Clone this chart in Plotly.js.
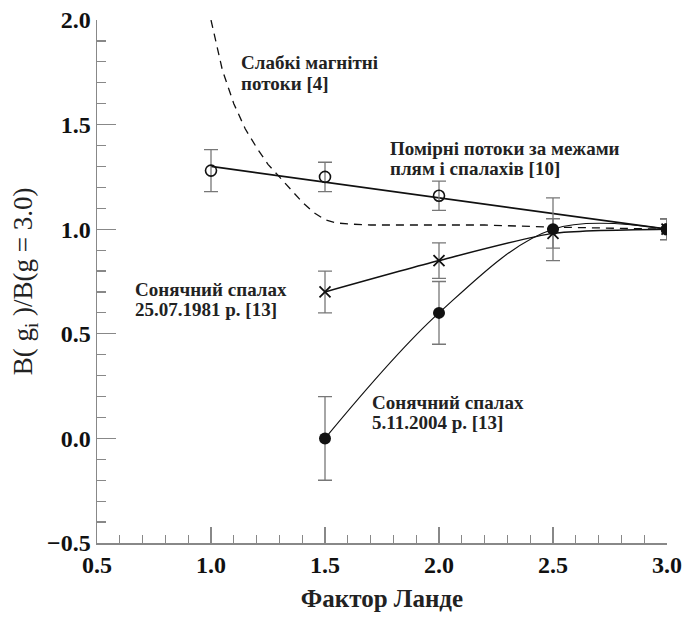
<!DOCTYPE html>
<html>
<head>
<meta charset="utf-8">
<script src="https://cdn.plot.ly/plotly-3.0.1.min.js"></script>
<style>html,body{margin:0;padding:0;background:#fff;}#chart{width:685px;height:617px;}</style>
</head>
<body>
<div id="chart"></div>
<script>
// Moderate fluxes outside spots and flares [10] (open circles)
const modX = [1.0, 1.5, 2.0, 3.0];
const modY = [1.28, 1.25, 1.16, 1.0];
const modErr = [0.10, 0.07, 0.07, 0.05];
// straight fit line for moderate fluxes
const modFitX = [1.0, 3.0];
const modFitY = [1.30, 1.0];

// Solar flare 25.07.1981 (crosses)
const f81X = [1.5, 2.0, 2.5, 3.0];
const f81Y = [0.70, 0.85, 0.98, 1.0];
const f81Err = [0.10, 0.085, 0.07, 0.05];

// Solar flare 5.11.2004 (filled circles)
const f04X = [1.5, 2.0, 2.5, 3.0];
const f04Y = [0.0, 0.60, 1.0, 1.0];
const f04Err = [0.20, 0.15, 0.15, 0.05];

// Weak magnetic fluxes [4] (dashed curve)
const weakX = [1.0, 1.05, 1.1, 1.15, 1.2, 1.25, 1.3, 1.35, 1.4, 1.45, 1.5, 1.55, 1.6, 1.7, 1.8, 2.0, 2.2, 2.5, 2.7, 3.0];
const weakY = [2.0, 1.76, 1.60, 1.48, 1.39, 1.31, 1.25, 1.19, 1.13, 1.08, 1.045, 1.03, 1.025, 1.02, 1.02, 1.02, 1.02, 1.01, 1.005, 1.0];

// Label lines (each line placed separately)
const labelText = ['Слабкі магнітні', 'потоки [4]',
                   'Помірні потоки за межами', 'плям і спалахів [10]',
                   'Сонячний спалах', '25.07.1981 р. [13]',
                   'Сонячний спалах', '5.11.2004 р. [13]'];
const labelX = [1.123, 1.123, 1.776, 1.776, 0.658, 0.658, 1.697, 1.697];
const labelY = [1.798, 1.697, 1.387, 1.291, 0.713, 0.618, 0.174, 0.078];

const serif = 'Liberation Serif';
const errStyle = {type: 'data', symmetric: true, color: '#777', thickness: 1.3, width: 7};

const traces = [
  {x: weakX, y: weakY, mode: 'lines', line: {color: '#111', width: 1.3, dash: '8px,6px'}, hoverinfo: 'none'},
  {x: modFitX, y: modFitY, mode: 'lines', line: {color: '#111', width: 1.8}, hoverinfo: 'none'},
  {x: modX, y: modY, mode: 'markers', marker: {symbol: 'circle-open', size: 11, color: '#111', line: {width: 1.6}},
   error_y: Object.assign({array: modErr}, errStyle)},
  {x: f81X, y: f81Y, mode: 'lines+markers', line: {color: '#111', width: 1.5, shape: 'spline', smoothing: 0.6},
   marker: {symbol: 'x-thin-open', size: 11, color: '#111', line: {width: 1.8}},
   error_y: Object.assign({array: f81Err}, errStyle)},
  {x: f04X, y: f04Y, mode: 'lines+markers', line: {color: '#111', width: 1.2, shape: 'spline', smoothing: 1},
   marker: {symbol: 'circle', size: 12, color: '#111'},
   error_y: Object.assign({array: f04Err}, errStyle)}
];

const layout = {
  width: 685, height: 617,
  margin: {l: 97, r: 18, t: 20, b: 74},
  paper_bgcolor: '#fff', plot_bgcolor: '#fff',
  showlegend: false,
  font: {family: serif, color: '#111'},
  xaxis: {
    range: [0.5, 3.0], tickvals: [0.5, 1.0, 1.5, 2.0, 2.5, 3.0], ticktext: ['0.5', '1.0', '1.5', '2.0', '2.5', '3.0'],
    showline: true, linecolor: '#888', linewidth: 1.5, showgrid: false, zeroline: false,
    ticks: 'inside', ticklen: 16, tickwidth: 1.3, tickcolor: '#888',
    minor: {dtick: 0.1, tick0: 0.5, ticks: 'inside', ticklen: 8, tickwidth: 1.2, tickcolor: '#888', showgrid: false},
    tickfont: {family: serif, size: 24, color: '#111', weight: 'bold'},
    title: {text: 'Фактор Ланде', font: {family: serif, size: 25, color: '#222', weight: 'bold'}, standoff: 12}
  },
  yaxis: {
    range: [-0.5, 2.0], tickvals: [-0.5, 0, 0.5, 1.0, 1.5, 2.0], ticktext: ['−0.5', '0.0', '0.5', '1.0', '1.5', '2.0'],
    showline: true, linecolor: '#888', linewidth: 1.5, showgrid: false, zeroline: false,
    ticks: 'inside', ticklen: 19, tickwidth: 1.3, tickcolor: '#888',
    minor: {dtick: 0.1, tick0: -0.5, ticks: 'inside', ticklen: 9, tickwidth: 1.2, tickcolor: '#888', showgrid: false},
    tickfont: {family: serif, size: 24, color: '#111', weight: 'bold'},
    title: {text: 'B( g<sub>i</sub> )/B(g = 3.0)', font: {family: serif, size: 27, color: '#222'}, standoff: 6}
  },
  annotations: labelText.map((t, i) => ({
    text: t, x: labelX[i], y: labelY[i], xref: 'x', yref: 'y', xanchor: 'left', yanchor: 'middle', align: 'left',
    showarrow: false, font: {family: serif, size: 19, color: '#222', weight: 'bold'}
  }))
};

Plotly.newPlot('chart', traces, layout, {displayModeBar: false, staticPlot: true});
</script>
</body>
</html>
